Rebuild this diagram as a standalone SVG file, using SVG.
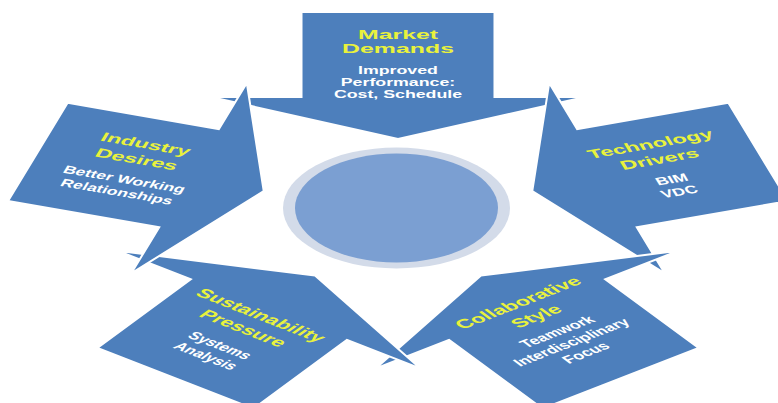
<svg xmlns="http://www.w3.org/2000/svg" xmlns:xlink="http://www.w3.org/1999/xlink" width="778" height="403" viewBox="0 0 778 403">
  <defs>
    <style>
      .arrow { fill: #4d7fbc; stroke: #ffffff; stroke-width: 2; stroke-linejoin: miter; vector-effect: non-scaling-stroke; }
      .title { font-family: "Liberation Sans", Arial, sans-serif; font-weight: bold; fill: #e9f23c; text-anchor: middle; }
      .sub { font-family: "Liberation Sans", Arial, sans-serif; font-weight: bold; fill: #ffffff; text-anchor: middle; font-size: 9.5px; }
      .t1 { font-size: 13.3px; }
      .t2 { font-size: 12.6px; }
    </style>
    <!-- one arrow, body above the centre, head pointing down towards it -->
    <path id="arrow-shape" class="arrow" d="M -51.6 -202.5 L 51.6 -202.5 L 51.6 -117.5 L 100 -117.5 L 0 -75.5 L -100 -117.5 L -51.6 -117.5 Z"/>
  </defs>

  <rect x="0" y="0" width="778" height="403" fill="#ffffff"/>

  <!-- the five arrows share one frame, stretched horizontally -->
  <g id="ring" transform="matrix(1.87 0 0 1 398 214.5)">
    <g id="market-demands">
      <use xlink:href="#arrow-shape"/>
      <g transform="translate(0,-150)">
        <text class="title t1" x="0" y="-26">Market</text>
        <text class="title t1" x="0" y="-11.2">Demands</text>
        <g transform="scale(1,1.15)">
          <text class="sub" x="0" y="8.3">Improved</text>
          <text class="sub" x="0" y="18.7">Performance:</text>
          <text class="sub" x="0" y="29.1">Cost, Schedule</text>
        </g>
      </g>
    </g>

    <g id="technology-drivers">
      <use xlink:href="#arrow-shape" transform="rotate(72)"/>
      <g transform="rotate(72) translate(0,-150) rotate(-90)">
        <text class="title t2" x="0" y="-21">Technology</text>
        <text class="title t2" x="0" y="-5">Drivers</text>
        <g transform="scale(1,1.15)">
          <text class="sub" x="0" y="13.5">BIM</text>
          <text class="sub" x="0" y="24.8">VDC</text>
        </g>
      </g>
    </g>

    <g id="collaborative-style">
      <use xlink:href="#arrow-shape" transform="rotate(144)"/>
      <g transform="rotate(144) translate(0,-150) rotate(-180)">
        <text class="title t2" x="0" y="-36.5">Collaborative</text>
        <text class="title t2" x="0" y="-20">Style</text>
        <g transform="scale(1,1.15)">
          <text class="sub" x="0" y="-1.3">Teamwork</text>
          <text class="sub" x="0" y="10">Interdisciplinary</text>
          <text class="sub" x="0" y="21.3">Focus</text>
        </g>
      </g>
    </g>

    <g id="sustainability-pressure">
      <use xlink:href="#arrow-shape" transform="rotate(-144)"/>
      <g transform="rotate(-144) translate(0,-150) rotate(180)">
        <text class="title t2" x="0" y="-21">Sustainability</text>
        <text class="title t2" x="0" y="-5">Pressure</text>
        <g transform="scale(1,1.15)">
          <text class="sub" x="0" y="13.5">Systems</text>
          <text class="sub" x="0" y="24.8">Analysis</text>
        </g>
      </g>
    </g>

    <g id="industry-desires">
      <use xlink:href="#arrow-shape" transform="rotate(-72)"/>
      <g transform="rotate(-72) translate(0,-150) rotate(90)">
        <text class="title t2" x="0" y="-21">Industry</text>
        <text class="title t2" x="0" y="-5">Desires</text>
        <g transform="scale(1,1.15)">
          <text class="sub" x="0" y="13.5">Better Working</text>
          <text class="sub" x="0" y="24.8">Relationships</text>
        </g>
      </g>
    </g>
  </g>

  <!-- centre disc with its pale rim -->
  <g id="centre">
    <ellipse cx="396.5" cy="208" rx="113.5" ry="60.5" fill="#d3dbe9"/>
    <ellipse cx="396.5" cy="208" rx="101.5" ry="54.5" fill="#7b9fd2"/>
  </g>
</svg>
